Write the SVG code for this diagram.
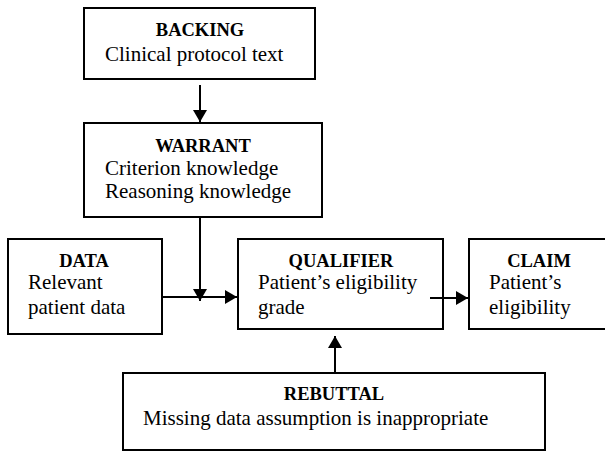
<svg xmlns="http://www.w3.org/2000/svg" width="605" height="451" viewBox="0 0 605 451">
<style>
.box{fill:#fff;stroke:#000;stroke-width:2}
.h{font-family:"Liberation Serif","Times New Roman",serif;font-weight:bold;font-size:18.5px;text-anchor:middle;fill:#000}
.t{font-family:"Liberation Serif","Times New Roman",serif;font-size:21px;fill:#000}
.c{fill:none;stroke:#000;stroke-width:2}
</style>
<defs>
<marker id="ah" markerUnits="userSpaceOnUse" markerWidth="14" markerHeight="14" viewBox="0 0 12 14" refX="12" refY="7" orient="auto">
<path d="M0,0 L12,7 L0,14 Z" fill="#000"/>
</marker>
</defs>
<rect width="605" height="451" fill="#fff"/>
<g id="backing">
<rect class="box" x="84" y="8" width="231" height="71"/>
<text class="h" x="200" y="36">BACKING</text>
<text class="t" x="105" y="61">Clinical protocol text</text>
</g>
<g id="warrant">
<rect class="box" x="84" y="123" width="238" height="94"/>
<text class="h" x="203" y="152">WARRANT</text>
<text class="t" x="105" y="175">Criterion knowledge</text>
<text class="t" x="105" y="198">Reasoning knowledge</text>
</g>
<g id="data">
<rect class="box" x="8" y="239" width="154" height="95"/>
<text class="h" x="84" y="267">DATA</text>
<text class="t" x="28" y="289">Relevant</text>
<text class="t" x="28" y="314">patient data</text>
</g>
<g id="qualifier">
<rect class="box" x="238" y="239" width="205" height="90"/>
<text class="h" x="341" y="267">QUALIFIER</text>
<text class="t" x="258" y="289">Patient’s eligibility</text>
<text class="t" x="258" y="314">grade</text>
</g>
<g id="claim">
<rect class="box" x="469" y="239" width="140" height="90"/>
<text class="h" x="539" y="267">CLAIM</text>
<text class="t" x="489" y="289">Patient’s</text>
<text class="t" x="489" y="314">eligibility</text>
</g>
<g id="rebuttal">
<rect class="box" x="123" y="373" width="422" height="77"/>
<text class="h" x="334" y="400">REBUTTAL</text>
<text class="t" x="143" y="425">Missing data assumption is inappropriate</text>
</g>
<g id="connectors">
<line class="c" x1="200" y1="85" x2="200" y2="122" marker-end="url(#ah)"/>
<line class="c" x1="200" y1="217" x2="200" y2="301" marker-end="url(#ah)"/>
<line class="c" x1="162" y1="297" x2="237" y2="297" marker-end="url(#ah)"/>
<line class="c" x1="430" y1="298" x2="468" y2="298" marker-end="url(#ah)"/>
<line class="c" x1="335" y1="372" x2="335" y2="336" marker-end="url(#ah)"/>
</g>
</svg>
